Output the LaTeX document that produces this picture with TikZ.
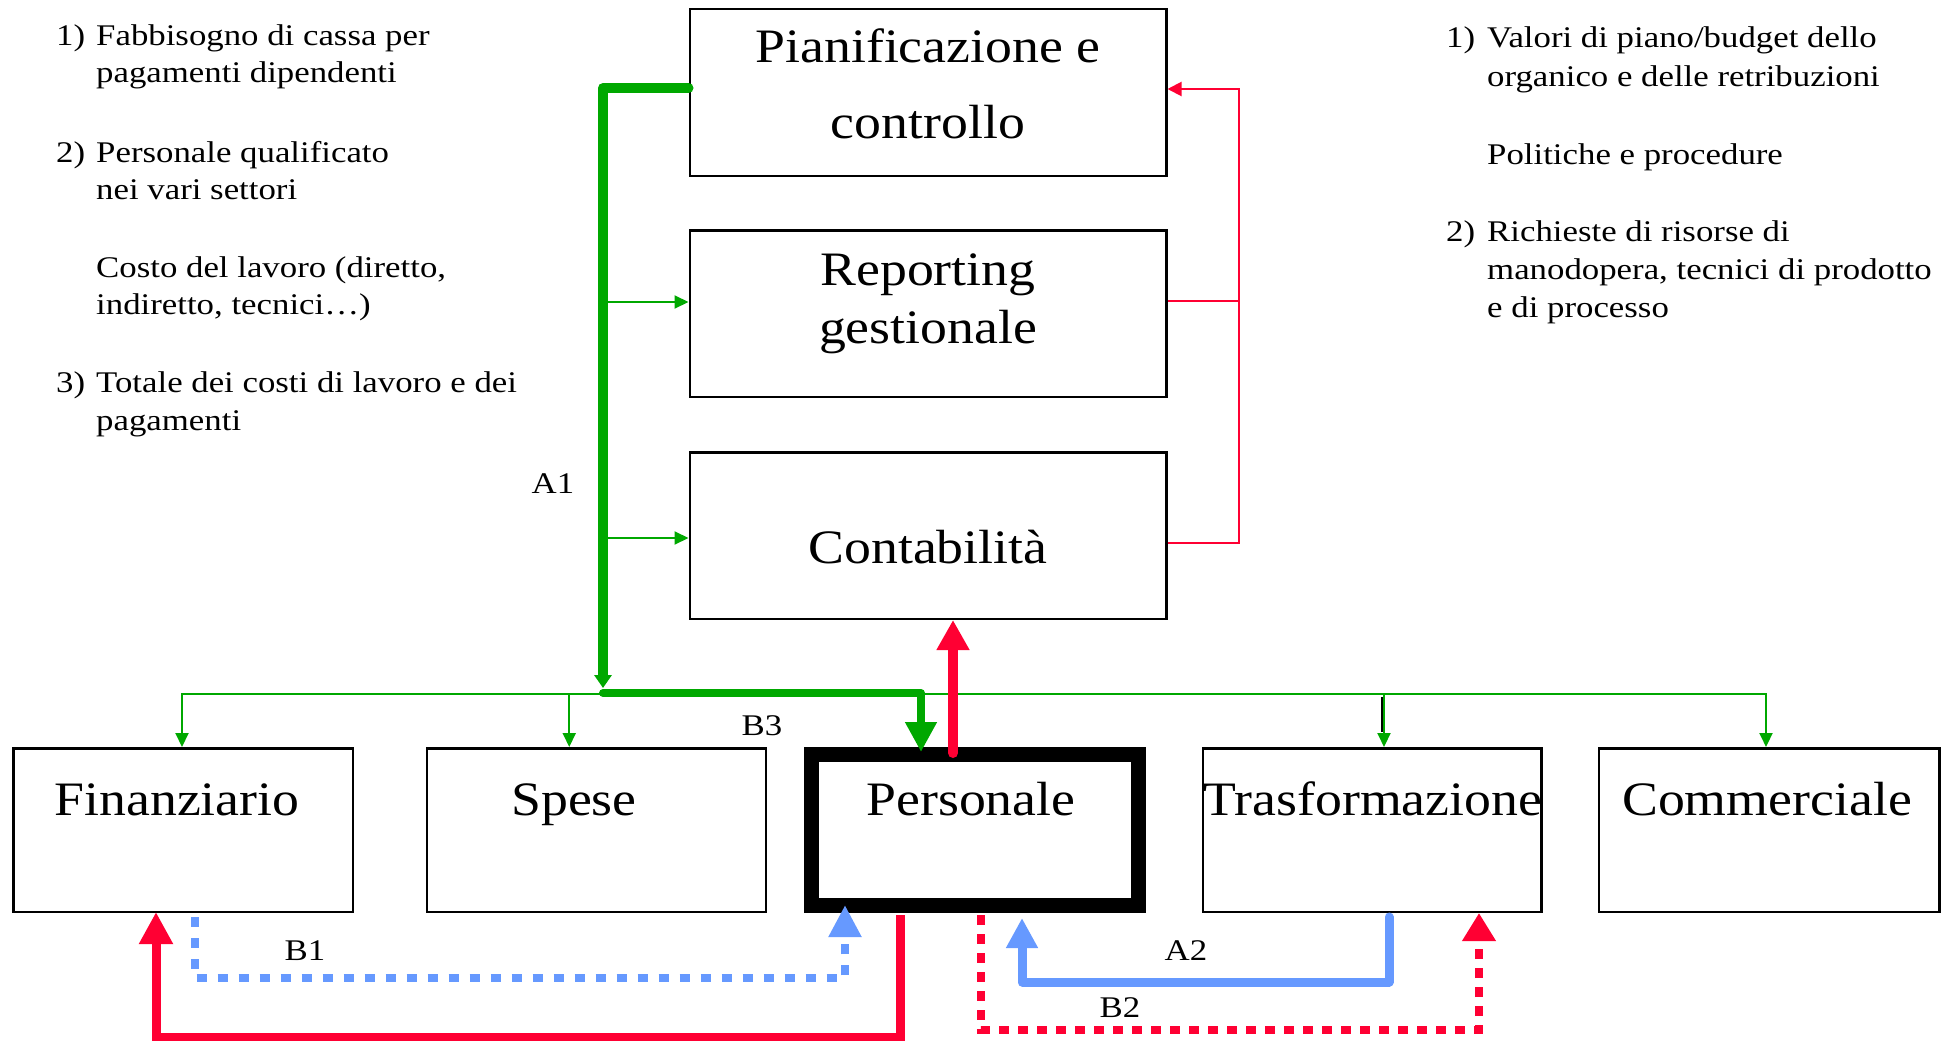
\documentclass[tikz,border=0pt]{standalone}
\usepackage{fontspec}
\setmainfont{Liberation Serif}
\usetikzlibrary{arrows.meta}
\definecolor{gr}{RGB}{0,168,0}
\definecolor{rd}{RGB}{255,0,51}
\definecolor{bl}{RGB}{102,153,255}
\newcommand{\bigtxt}{\fontsize{48}{52}\selectfont}
\newcommand{\smtxt}{\fontsize{30}{35}\selectfont}
\newcommand{\hs}[1]{\scalebox{1.16}[1]{#1}}
\newcommand{\hb}[1]{\scalebox{1.12}[1]{#1}}
\begin{document}
\begin{tikzpicture}[x=1pt,y=-1pt,
  box/.style={draw=black, line width=2.5pt, inner sep=0pt, rectangle},
  txt/.style={anchor=base, inner sep=0pt, font=\bigtxt},
  side/.style={anchor=base west, inner sep=0pt, font=\smtxt},
  lab/.style={anchor=base, inner sep=0pt, font=\smtxt},
  gthin/.style={draw=gr, line width=2pt, -{Triangle[width=13pt,length=14pt]}},
  gthick/.style={draw=gr, line width=10pt, line cap=round, line join=round},
  gmed/.style={draw=gr, line width=8pt, line cap=round, line join=round},
  rthin/.style={draw=rd, line width=2pt},
  rthick/.style={draw=rd, line width=10pt, line cap=round},
  rsol/.style={draw=rd, line width=9pt, line join=miter},
  rdash/.style={draw=rd, line width=8pt, dash pattern=on 10pt off 9pt},
  bdot/.style={draw=bl, line width=8pt, dash pattern=on 10pt off 11pt},
  bsol/.style={draw=bl, line width=9pt, line cap=round, line join=round}]
\useasboundingbox (0,0) rectangle (1944,1041);

% boxes
\node[box, minimum width=476.5pt, minimum height=166.5pt] (pian) at (928,92.5) {};
\node[box, minimum width=476.5pt, minimum height=166.5pt] (rep) at (928,313.5) {};
\node[box, minimum width=476.5pt, minimum height=166.5pt] (cont) at (928,535.5) {};
\node[box, minimum width=339.5pt, minimum height=163.5pt] (fin) at (183,830) {};
\node[box, minimum width=339pt, minimum height=163.5pt] (spe) at (596.25,830) {};
\node[box, line width=15pt, minimum width=327pt, minimum height=151pt] (pers) at (975,830) {};
\node[box, minimum width=338.5pt, minimum height=163.5pt] (tra) at (1372,830) {};
\node[box, minimum width=340.5pt, minimum height=163.5pt] (com) at (1769,830) {};

% box texts
\node[txt] (t1) at (928,63) {\hb{Pianificazione e}};
\node[txt] (t2) at (928,138) {\hb{controllo}};
\node[txt] (t3) at (928,285) {\hb{Reporting}};
\node[txt] (t4) at (928,343) {\hb{gestionale}};
\node[txt] (t5) at (928,563) {\hb{Contabilità}};
\node[txt] (t6) at (177,815) {\hb{Finanziario}};
\node[txt] (t7) at (574,815) {\hb{Spese}};
\node[txt] (t8) at (971,815) {\hb{Personale}};
\node[txt] (t9) at (1373,815) {\hb{Trasformazione}};
\node[txt] (t10) at (1767,815) {\hb{Commerciale}};

% left notes
\node[side] (l1n) at (56,46) {\hs{1)}};
\node[side] (l1a) at (96,46) {\hs{Fabbisogno di cassa per}};
\node[side] (l1b) at (96,83) {\hs{pagamenti dipendenti}};
\node[side] (l2n) at (56,162) {\hs{2)}};
\node[side] (l2a) at (96,162) {\hs{Personale qualificato}};
\node[side] (l2b) at (96,199) {\hs{nei vari settori}};
\node[side] (l2c) at (96,277) {\hs{Costo del lavoro (diretto,}};
\node[side] (l2d) at (96,314) {\hs{indiretto, tecnici…)}};
\node[side] (l3n) at (56,392) {\hs{3)}};
\node[side] (l3a) at (96,392) {\hs{Totale dei costi di lavoro e dei}};
\node[side] (l3b) at (96,430) {\hs{pagamenti}};

% right notes
\node[side] (r1n) at (1446,48) {\hs{1)}};
\node[side] (r1a) at (1487,48) {\hs{Valori di piano/budget dello}};
\node[side] (r1b) at (1487,87) {\hs{organico e delle retribuzioni}};
\node[side] (r1c) at (1487,164) {\hs{Politiche e procedure}};
\node[side] (r2n) at (1446,241) {\hs{2)}};
\node[side] (r2a) at (1487,241) {\hs{Richieste di risorse di}};
\node[side] (r2b) at (1487,279) {\hs{manodopera, tecnici di prodotto}};
\node[side] (r2c) at (1487,317) {\hs{e di processo}};

% connector labels
\node[lab] (A1) at (553,493) {\hs{A1}};
\node[lab] (B3) at (762,735) {\hs{B3}};
\node[lab] (B1) at (305,960) {\hs{B1}};
\node[lab] (A2) at (1186,960) {\hs{A2}};
\node[lab] (B2) at (1120,1017) {\hs{B2}};

% coordinates on the green trunk
\coordinate (j) at (603,693);
\coordinate (gR) at (603,302);
\coordinate (gC) at (603,538);
\coordinate (bus) at (603,694);

% green thin connectors
\draw[gthin] (gR) -- (gR -| rep.west);
\draw[gthin] (gC) -- (gC -| cont.west);
\draw[gthin] (bus) -| ([xshift=-1pt]fin.north);
\draw[gthin] (bus) -| ([xshift=-27pt]spe.north);
\draw[gthin] (bus) -| ([xshift=12pt]tra.north);
\draw[gthin] (bus) -| ([xshift=-3pt]com.north);
\draw[black, line width=1.5pt] ([xshift=10pt,yshift=50pt]tra.north) -- ++(0,35);

% A1 and B3
\draw[gthick, -{Triangle[width=17pt,length=13pt]}] ([yshift=4.5pt]pian.west) -| ([yshift=5pt]j);
\draw[gmed, -{Triangle[width=30pt,length=30pt]}] (j) -| ([xshift=-54pt,yshift=-5pt]pers.north);

% red feedback to planning
\draw[rthin, -{Triangle[width=14pt,length=14pt]}] ([yshift=-7.5pt]cont.east) -- ++(71.5,0) |- ([yshift=3.5pt]pian.east);
\draw[rthin] ([yshift=12.5pt]rep.east) -- ++(71.5,0);

% red thick Personale -> Contabilita
\draw[rthick, -{Triangle[width=31pt,length=30pt]}] ([xshift=-22pt,yshift=-6pt]pers.north) -- ([xshift=25pt]cont.south);

% B1
\draw[bdot, -{Triangle[width=31pt,length=32pt]}] ([xshift=11.6pt,yshift=-4pt]fin.south) -- ++(0,61) -| ([xshift=-130pt,yshift=8pt]pers.south);
% red solid Personale -> Finanziario
\draw[rsol, -{Triangle[width=32pt,length=32pt]}] ([xshift=-75pt,yshift=-2pt]pers.south) -- ++(0,122) -| ([xshift=-27pt,yshift=1pt]fin.south);
% B2
\draw[rdash, -{Triangle[width=32pt,length=28pt]}] ([xshift=6pt,yshift=-2pt]pers.south) -- ++(0,115) -| ([xshift=107pt]tra.south);
% A2
\draw[bsol, -{Triangle[width=30pt,length=30pt]}] ([xshift=17pt,yshift=-4pt]tra.south) -- ++(0,65) -| ([xshift=47pt,yshift=-5pt]pers.south);
\end{tikzpicture}
\end{document}
